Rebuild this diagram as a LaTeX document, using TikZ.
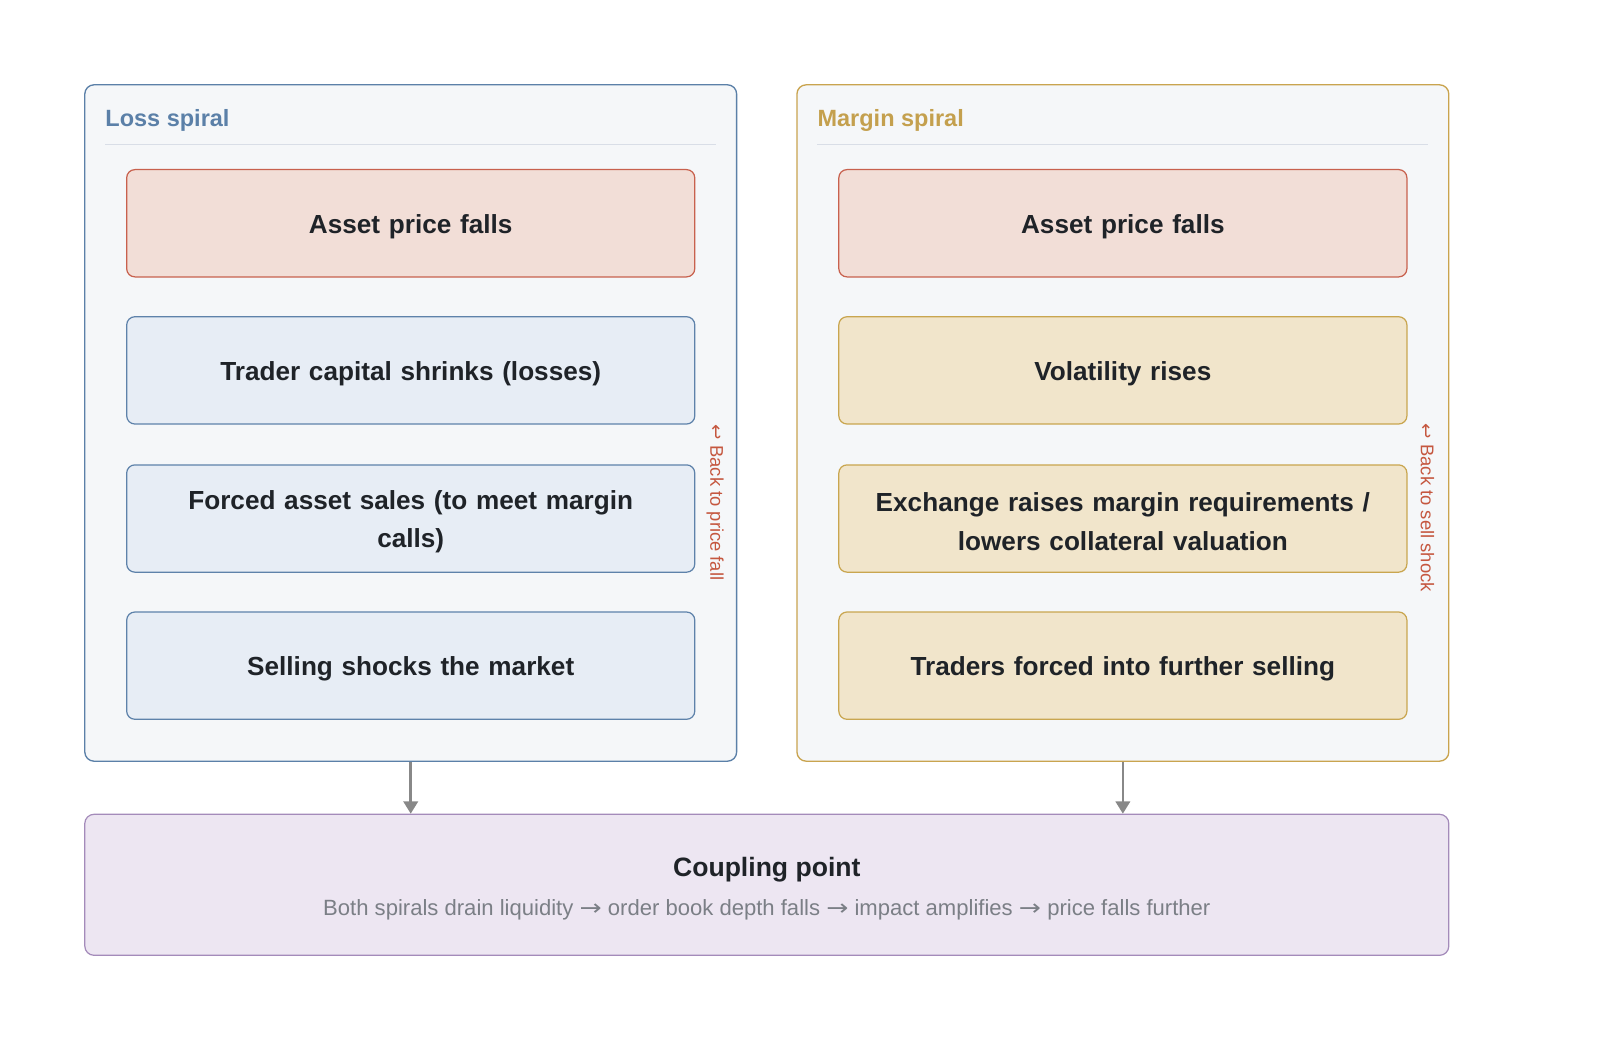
\documentclass[tikz,border=0pt]{standalone}
\usepackage{fontspec}
\setmainfont{Liberation Sans}
\newfontfamily\symfont{DejaVu Sans}
\usetikzlibrary{arrows.meta}
\definecolor{panelfill}{HTML}{F5F7F9}
\definecolor{lossborder}{HTML}{5B80A8}
\definecolor{margborder}{HTML}{C9A44F}
\definecolor{redfill}{HTML}{F2DED7}
\definecolor{redborder}{HTML}{C8614E}
\definecolor{bluefill}{HTML}{E7EDF5}
\definecolor{blueborder}{HTML}{5E82AA}
\definecolor{goldfill}{HTML}{F1E5CB}
\definecolor{goldborder}{HTML}{C9A650}
\definecolor{couplefill}{HTML}{EDE6F2}
\definecolor{coupleborder}{HTML}{A48BBA}
\definecolor{sepline}{HTML}{D9DEE7}
\definecolor{textdark}{HTML}{1F2328}
\definecolor{subgrey}{HTML}{7B7F86}
\definecolor{backred}{HTML}{C5573F}
\definecolor{arrowgrey}{HTML}{888888}
\definecolor{losstitle}{HTML}{5B80A8}
\definecolor{margtitle}{HTML}{C4A04E}
\newcommand{\longarr}{{\symfont\scalebox{1.2}[1]{→}}}
\begin{document}
\begin{tikzpicture}[x=1pt,y=-1pt,
  panel/.style={draw, line width=1.3pt, fill=panelfill, rounded corners=9pt, minimum width=638pt, minimum height=662pt, inner sep=0pt},
  stepbox/.style={draw, line width=1.2pt, rounded corners=8pt, minimum width=556pt, minimum height=105pt, inner sep=0pt},
  steptext/.style={inner sep=0pt, yshift=-3.2pt, text width=520pt, align=center, text=textdark, font=\fontsize{25.6}{38}\selectfont\bfseries},
  redbox/.style={stepbox, fill=redfill, draw=redborder},
  bluebox/.style={stepbox, fill=bluefill, draw=blueborder},
  goldbox/.style={stepbox, fill=goldfill, draw=goldborder},
  ptitle/.style={anchor=base west, inner sep=0pt, font=\fontsize{23}{28}\selectfont\bfseries},
  backlbl/.style={rotate=-90, inner sep=0pt, text=backred, font=\fontsize{18}{22}\selectfont},
  arr/.style={draw=arrowgrey, line width=2.6pt, -{Triangle[length=12pt,width=14pt]}}
]
\useasboundingbox (0,0) rectangle (1566,1018);
% panels
\node[panel, draw=lossborder] (lp) at (402,414) {};
\node[panel, draw=margborder] (mp) at (1099,414) {};
\node[ptitle, text=losstitle] (lt) at (103,124) {Loss spiral};
\node[ptitle, text=margtitle] (mt) at (800,124) {Margin spiral};
\coordinate (ls1) at (103,141); \coordinate (ls2) at (701,141);
\coordinate (ms1) at (800,141); \coordinate (ms2) at (1398,141);
\draw[sepline, line width=1pt] (ls1) -- (ls2);
\draw[sepline, line width=1pt] (ms1) -- (ms2);
% loss boxes
\node[redbox, label={[steptext]center:{Asset price falls}}] (l1) at (402,218.5) {};
\node[bluebox, label={[steptext]center:{Trader capital shrinks (losses)}}] (l2) at (402,362.5) {};
\node[bluebox, label={[steptext]center:{Forced asset sales (to meet margin\\calls)}}] (l3) at (402,507.5) {};
\node[bluebox, label={[steptext]center:{Selling shocks the market}}] (l4) at (402,651.5) {};
% margin boxes
\node[redbox, label={[steptext]center:{Asset price falls}}] (m1) at (1099,218.5) {};
\node[goldbox, label={[steptext]center:{Volatility rises}}] (m2) at (1099,362.5) {};
\node[goldbox, label={[steptext]center:{Exchange raises margin requirements /\\lowers collateral valuation}}] (m3) at (1099,507.5) {};
\node[goldbox, label={[steptext]center:{Traders forced into further selling}}] (m4) at (1099,651.5) {};
% back labels
\node[backlbl] (lb) at (700,492) {{\symfont ↩} Back to price fall};
\node[backlbl] (mb) at (1397,497) {{\symfont ↩} Back to sell shock};
% coupling
\node[draw=coupleborder, fill=couplefill, line width=1.2pt, rounded corners=9pt, minimum width=1335pt, minimum height=138pt, inner sep=0pt] (cp) at (750.5,866) {};
\node[inner sep=0pt, anchor=base, text=textdark, font=\fontsize{26}{30}\selectfont\bfseries] (ct) at (750.5,858) {Coupling point};
\node[inner sep=0pt, anchor=base, text=subgrey, font=\fontsize{21.6}{24}\selectfont] (cs) at (750.5,896) {Both spirals drain liquidity \longarr{} order book depth falls \longarr{} impact amplifies \longarr{} price falls further};
% arrows
\draw[arr] (lp.south) -- (lp.south |- cp.north);
\draw[arr] (mp.south) -- (mp.south |- cp.north);
\end{tikzpicture}
\end{document}
